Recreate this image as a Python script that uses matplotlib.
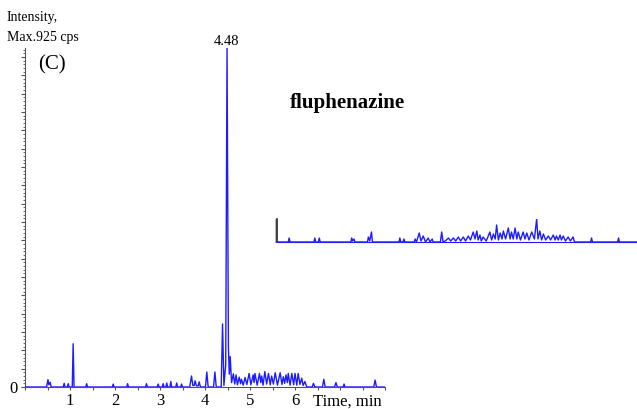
import matplotlib
matplotlib.use("Agg")
import matplotlib.pyplot as plt
from matplotlib.ticker import MultipleLocator

plt.rcParams['font.family'] = ['Liberation Serif', 'DejaVu Serif']

# XIC trace, time (min) / intensity (cps) vertices
rt = [0.00, 0.48, 0.51, 0.53, 0.56, 0.58, 0.85, 0.87, 0.89, 0.94, 0.96, 0.98,
      1.05, 1.07, 1.09, 1.35, 1.37, 1.39, 1.94, 1.96, 1.98, 2.26, 2.28, 2.30,
      2.68, 2.70, 2.72, 2.94, 2.96, 2.98, 3.05, 3.07, 3.09, 3.13, 3.15, 3.17,
      3.22, 3.24, 3.26, 3.35, 3.37, 3.39, 3.46, 3.48, 3.50, 3.66, 3.70, 3.73,
      3.76, 3.78, 3.81, 3.85, 3.87, 3.90, 4.01, 4.04, 4.07, 4.19, 4.22, 4.25,
      4.36, 4.39, 4.42, 4.46, 4.49, 4.52, 4.54, 4.56, 4.59, 4.63, 4.66, 4.69,
      4.72, 4.76, 4.79, 4.81, 4.85, 4.89, 4.93, 4.98, 5.02, 5.07, 5.09, 5.11,
      5.16, 5.21, 5.24, 5.26, 5.29, 5.33, 5.37, 5.41, 5.45, 5.48, 5.52, 5.56,
      5.61, 5.67, 5.71, 5.74, 5.77, 5.80, 5.83, 5.85, 5.89, 5.93, 5.97, 6.00,
      6.04, 6.07, 6.11, 6.15, 6.18, 6.22, 6.26, 6.38, 6.41, 6.44, 6.61, 6.64,
      6.67, 6.88, 6.91, 6.94, 7.07, 7.09, 7.11, 7.75, 7.78, 7.81, 8.00]
cps = [0, 0, 20, 6, 13, 0, 0, 10, 0, 0, 9, 0,
       0, 118, 0, 0, 9, 0, 0, 8, 0, 0, 9, 0,
       0, 9, 0, 0, 8, 0, 0, 9, 0, 0, 11, 0,
       0, 15, 0, 0, 11, 0, 0, 8, 0, 0, 30, 4,
       4, 17, 3, 3, 14, 0, 0, 41, 0, 0, 41, 0,
       0, 172, 4, 60, 925, 110, 35, 83, 12, 36, 8, 33,
       6, 27, 9, 21, 5, 26, 7, 37, 6, 33, 12, 37,
       5, 37, 12, 30, 5, 42, 8, 37, 6, 30, 8, 39,
       5, 39, 7, 28, 10, 33, 12, 37, 5, 37, 6, 37,
       5, 37, 7, 24, 4, 15, 0, 0, 10, 0, 0, 21,
       0, 0, 12, 0, 0, 8, 0, 0, 19, 0, 0]

# blank trace shown magnified
blank_rt = [0.00, 0.25, 0.27, 0.29, 0.82, 0.84, 0.86, 0.92, 0.94, 0.96, 1.64, 1.66,
            1.68, 1.71, 1.73, 2.01, 2.03, 2.06, 2.10, 2.12, 2.71, 2.73, 2.75, 2.80,
            2.82, 2.84, 3.05, 3.07, 3.10, 3.16, 3.20, 3.25, 3.30, 3.36, 3.40, 3.45,
            3.47, 3.63, 3.66, 3.69, 3.74, 3.81, 3.86, 3.92, 3.97, 4.03, 4.08, 4.14,
            4.19, 4.25, 4.30, 4.36, 4.40, 4.44, 4.47, 4.51, 4.54, 4.58, 4.65, 4.73,
            4.77, 4.81, 4.85, 4.88, 4.92, 4.96, 5.00, 5.03, 5.08, 5.14, 5.18, 5.21,
            5.25, 5.29, 5.33, 5.36, 5.41, 5.47, 5.51, 5.55, 5.60, 5.66, 5.72, 5.77,
            5.80, 5.84, 5.88, 5.92, 5.97, 6.03, 6.08, 6.14, 6.18, 6.21, 6.25, 6.29,
            6.32, 6.36, 6.41, 6.47, 6.52, 6.58, 6.61, 6.97, 6.99, 7.01, 7.57, 7.59,
            7.61, 8.00]
blank_cps = [0, 0, 4, 0, 0, 4, 0, 0, 4, 0, 0, 4,
             1, 3, 0, 0, 5, 1, 10, 0, 0, 4, 0, 0,
             3, 0, 0, 3, 0, 9, 1, 6, 0, 4, 0, 3,
             0, 0, 10, 0, 1, 4, 1, 4, 1, 5, 1, 5,
             1, 6, 2, 10, 3, 11, 2, 7, 1, 5, 1, 10,
             2, 8, 3, 17, 2, 9, 3, 11, 3, 14, 3, 10,
             3, 14, 3, 10, 2, 10, 3, 9, 2, 10, 3, 23,
             3, 11, 2, 8, 2, 6, 2, 7, 2, 6, 2, 7,
             2, 6, 1, 5, 1, 5, 0, 0, 4, 0, 0, 4,
             0, 0]

trace_color = '#1c1cff'
axis_color = '#555555'

fig = plt.figure(figsize=(6.37, 4.09), dpi=100)

ax = fig.add_axes([25 / 637, 22 / 409, 360 / 637, 339 / 409])
ax.plot(rt, cps, color=trace_color, lw=1.0, zorder=3)
ax.set_xlim(0, 8)
ax.set_ylim(0, 925)
for s in ['top', 'right']:
    ax.spines[s].set_visible(False)
for s in ['left', 'bottom']:
    ax.spines[s].set_color(axis_color)
    ax.spines[s].set_linewidth(0.8)
ax.xaxis.set_major_locator(MultipleLocator(1))
ax.xaxis.set_minor_locator(MultipleLocator(0.5))
ax.set_xticks([1, 2, 3, 4, 5, 6])
ax.set_xticklabels(['1', '2', '3', '4', '5', '6'])
ax.yaxis.set_major_locator(MultipleLocator(50))
ax.yaxis.set_minor_locator(MultipleLocator(10))
ax.set_yticks([0] + list(range(50, 925, 50)))
ax.set_yticklabels(['0'] + [''] * len(range(50, 925, 50)))
ax.tick_params(axis='x', which='both', length=2, width=0.8, color=axis_color,
               labelsize=12, pad=2)
ax.tick_params(axis='y', which='major', length=3, width=0.8, color=axis_color,
               labelsize=12, pad=2)
ax.tick_params(axis='y', which='minor', length=1.5, width=0.6, color=axis_color)

ax.text(4.48, 925, '4.48', ha='center', va='bottom', fontsize=10.5)
ax.text(0.3, 880, '(C)', ha='left', va='center', fontsize=15)

fig.text(7 / 637, 1 - 18 / 409, 'Intensity,', ha='left', va='center', fontsize=10)
fig.text(7 / 637, 1 - 38 / 409, 'Max.925 cps', ha='left', va='center', fontsize=10)
fig.text(313 / 637, 1 - 402 / 409, 'Time, min', ha='left', va='center', fontsize=12)
fig.text(290 / 637, 1 - 103 / 409, 'fluphenazine', ha='left', va='center',
         fontsize=15, fontweight='bold')

# magnified blank
ins = fig.add_axes([277 / 637, (409 - 242) / 409, 360 / 637, 23 / 409])
ins.plot(blank_rt, blank_cps, color=trace_color, lw=1.0, zorder=3)
ins.set_xlim(0, 8)
ins.set_ylim(0, 23)
ins.patch.set_alpha(0)
for s in ['top', 'right']:
    ins.spines[s].set_visible(False)
ins.spines['left'].set_color('#333333')
ins.spines['left'].set_linewidth(1.2)
ins.spines['bottom'].set_color(trace_color)
ins.spines['bottom'].set_linewidth(0.8)
ins.set_xticks([])
ins.yaxis.set_major_locator(MultipleLocator(5))
ins.yaxis.set_minor_locator(MultipleLocator(1))
ins.tick_params(axis='y', which='both', length=1.5, width=0.5, color='#333333',
                labelleft=False)

fig.savefig('out.png', dpi=100)
